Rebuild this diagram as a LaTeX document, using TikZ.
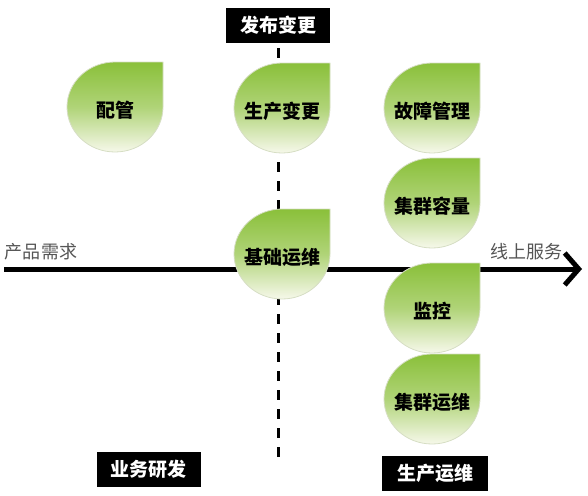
\documentclass[tikz,border=0pt]{standalone}
\usepackage{fontspec}
\newfontfamily\cjk{Noto Sans CJK SC}
\usetikzlibrary{arrows.meta}
\definecolor{leafgreen}{RGB}{138,192,58}
\definecolor{leafpale}{RGB}{246,248,234}
\definecolor{leafedge}{RGB}{214,222,196}
\definecolor{axisgray}{RGB}{85,85,85}
\tikzset{
  leaf/.style={top color=leafgreen, bottom color=leafpale, middle color=leafgreen!65!leafpale, draw=leafedge, line width=0.8pt},
  leaftext/.style={font=\cjk\bfseries\fontsize{19}{19}\selectfont, text=black},
  tag/.style={fill=black, text=white, font=\cjk\bfseries\fontsize{19}{19}\selectfont, minimum width=104pt, minimum height=35pt, inner sep=0pt},
  axislabel/.style={font=\cjk\fontsize{18}{18}\selectfont, text=axisgray},
}
\begin{document}
\begin{tikzpicture}[x=1pt,y=-1pt]
    \useasboundingbox (0,0) rectangle (588,495);
    %% tags
    \node[tag] (release) at (278,25.5) {发布变更};
    \node[tag] (dev) at (148.5,469) {业务研发};
    \node[tag,minimum width=106pt] (ops) at (435,473.5) {生产运维};
    %% axis
    \coordinate (flowstart) at (4,269);
    \coordinate (flowend) at (582,269);
    \coordinate (dashend) at (278,460);
    \draw[line width=3pt,dash pattern=on 10pt off 9pt] ([yshift=-5pt]release.south) -- (dashend);
    \draw[line width=5pt,-{Straight Barb[length=14pt,width=32pt]}] (flowstart) -- (flowend);
    %% labels
    \node[axislabel] (demand) at (41,252) {产品需求};
    \node[axislabel] (online) at (526,252) {线上服务};
    %% leaves
    \foreach \n/\x/\y/\t in {config/115/107/配管, change/282/108/生产变更, fault/432/108/故障管理,
        capacity/432/203/集群容量, infra/282/254/基础运维, monitor/432/308/监控, cluster/432/399/集群运维}{
        \path[leaf] (\x,\y) ++(0,-45) -- ++(48,0) -- ++(0,45)
            arc[start angle=0,end angle=270,x radius=48,y radius=45] -- cycle;
        \node[leaftext] (\n) at (\x,\y+3) {\t};
    }
\end{tikzpicture}
\end{document}
